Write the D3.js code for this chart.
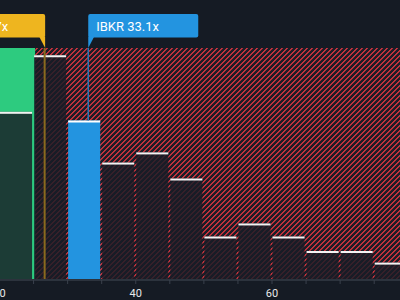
<!DOCTYPE html>
<html><head><meta charset="utf-8">
<script src="https://cdn.jsdelivr.net/npm/d3@7"></script>
<style>
html,body{margin:0;padding:0;background:#151b24;overflow:hidden}
svg{display:block}
text{font-family:Roboto,"DejaVu Sans",sans-serif}
</style></head>
<body>
<script>
// Data
const binStarts = [20,25,30,35,40,45,50,55,60,65,70,75];
const binValues = [11.6,15.5,11.0,8.1,8.8,7.0,3.0,3.9,3.0,2.0,2.0,1.2];
const tickValues = [20,40,60];
const companyLabel = "IBKR 33.1x";
const companyValue = 33.1;
const industryLabel = "Industry Avg. 26.7x";
const industryValue = 26.7;
const greenZoneEnd = 25.3;

const W=400,H=300;
const svg=d3.select("body").append("svg").attr("width",W).attr("height",H);
svg.append("rect").attr("width",W).attr("height",H).attr("fill","#151b24");

const x=d3.scaleLinear().domain([20,60]).range([-1,271.5]);
const y=d3.scaleLinear().domain([0,16]).range([280,48]);

const defs=svg.append("defs");
const P=5;
const pat=defs.append("pattern").attr("id","hatch").attr("patternUnits","userSpaceOnUse")
  .attr("width",P).attr("height",P);
pat.append("rect").attr("width",P).attr("height",P).attr("fill","#1b1d27");
for(let i=0;i<P;i++){
  pat.append("rect").attr("x",i).attr("y",P-1-i).attr("width",1).attr("height",1).attr("fill","#c8343e").attr("shape-rendering","crispEdges");
  pat.append("rect").attr("x",(i+1)%P).attr("y",P-1-i).attr("width",1).attr("height",1).attr("fill","#b02f39").attr("shape-rendering","crispEdges");
}

const xEnd=d3.max(binStarts)+5;
// hatched region
svg.append("rect").attr("x",x(greenZoneEnd)).attr("y",y(16))
  .attr("width",x(xEnd+5)-x(greenZoneEnd)).attr("height",y(0)-y(16)).attr("fill","url(#hatch)");
// green region
svg.append("rect").attr("x",x(10)).attr("y",y(16))
  .attr("width",x(greenZoneEnd)-x(10)).attr("height",y(0)-y(16)).attr("fill","#2dcb7f");

// bars
const bars=svg.append("g");
binStarts.forEach((b,i)=>{
  const x0=x(b)+1, x1=x(b+5)-1, yt=y(binValues[i]);
  const isCompany = companyValue>=b && companyValue<b+5;
  bars.append("rect").attr("x",x0).attr("y",yt).attr("width",x1-x0).attr("height",y(0)-yt)
    .attr("fill",isCompany?"#2394e0":"rgba(24,28,38,0.82)");
  bars.append("rect").attr("x",x0).attr("y",yt).attr("width",x1-x0).attr("height",2)
    .attr("fill",isCompany?"#ffffff":"#f2f2f2");
});

// industry line
svg.append("line").attr("x1",x(industryValue)).attr("x2",x(industryValue))
  .attr("y1",y(16)).attr("y2",y(0)).attr("stroke","#8a6a1e").attr("stroke-width",2);
// company line
const cIdx=binStarts.findIndex(b=>companyValue>=b&&companyValue<b+5);
svg.append("line").attr("x1",x(companyValue)).attr("x2",x(companyValue))
  .attr("y1",y(16)).attr("y2",y(binValues[cIdx])).attr("stroke","#2a78b8").attr("stroke-width",1.5);

// axis
const axisG=svg.append("g").attr("transform",`translate(0,${y(0)})`)
  .call(d3.axisBottom(x).tickValues(d3.range(20,85,5)).tickSize(4).tickFormat(d=>tickValues.includes(d)?d:""));
axisG.select(".domain").attr("stroke","#2c333d").attr("stroke-width",2).attr("d",`M${x(10)},0H${W+10}`);
axisG.selectAll(".tick line").attr("stroke","#3a414c");
axisG.selectAll(".tick text").attr("fill","#e8e8e8").attr("font-size",11).attr("dy","0.95em");

// labels
function flag(label,val,color,side){
  const g=svg.append("g");
  const px=x(val);
  const t=g.append("text").text(label).attr("fill","#fff").attr("font-size",13).attr("y",31);
  const tw=t.node().getComputedTextLength();
  const boxTop=14, boxBot=37.5, tip=48;
  let bx0,bx1,tri;
  if(side==="right"){
    bx0=px; bx1=px+110;
    t.attr("x",px+8);
    tri=`M${px},${boxBot-1}L${px+6},${boxBot-1}L${px},${tip}Z`;
  } else {
    bx1=px+0.5; bx0=px-110;
    t.attr("x",bx1-37-tw);
    tri=`M${bx1},${boxBot-1}L${bx1-6},${boxBot-1}L${bx1},${tip}Z`;
  }
  g.insert("rect","text").attr("x",bx0).attr("y",boxTop).attr("width",bx1-bx0).attr("height",boxBot-boxTop)
    .attr("rx",2).attr("fill",color);
  g.insert("path","text").attr("d",tri).attr("fill",color);
}
flag(industryLabel,industryValue,"#eeb51f","left");
flag(companyLabel,companyValue,"#2394e0","right");
</script>
</body></html>
